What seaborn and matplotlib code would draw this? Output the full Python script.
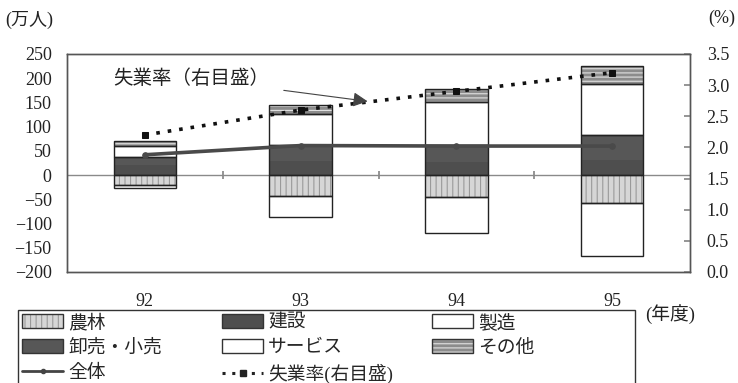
import numpy as np
import matplotlib
matplotlib.use('Agg')
import matplotlib.pyplot as plt
import seaborn as sns
from matplotlib.patches import Patch, Rectangle
from matplotlib.lines import Line2D

# Data (万人, 失業率 %)
years = ['92', '93', '94', '95']
agri = [-21, -43, -46, -57]        # 農林
manuf = [-5, -43, -73, -111]       # 製造
constr = [20, 30, 28, 32]          # 建設
trade = [17, 32, 35, 50]           # 卸売・小売
service = [24, 65, 88, 106]        # サービス
other = [10, 17, 27, 38]           # その他
total = [42, 61, 60, 60]           # 全体
unemp = [2.2, 2.6, 2.9, 3.2]       # 失業率
left_ticks = [-200, -150, -100, -50, 0, 50, 100, 150, 200, 250]
right_ticks = [0.0, 0.5, 1.0, 1.5, 2.0, 2.5, 3.0, 3.5]

sns.set_theme(style='white')
plt.rcParams['font.family'] = ['Liberation Serif', 'Noto Sans CJK JP']
plt.rcParams['hatch.linewidth'] = 0.8
plt.rcParams['axes.unicode_minus'] = True

W, H = 738, 383
fig = plt.figure(figsize=(W / 100, H / 100), dpi=100)
ax = fig.add_axes([67 / W, 111 / H, 623 / W, 218 / H])
x = np.arange(len(years))
bw = 0.4

# style per layer: face, hatch colour, hatch
styles = {
    '農林': ('#d6d6d6', '#9a9a9a', '|||'),
    '製造': ('white', 'white', None),
    '建設': ('#4e4e4e', '#4e4e4e', None),
    '卸売・小売': ('#575757', '#575757', None),
    'サービス': ('white', 'white', None),
    'その他': ('#8c8c8c', '#e2e2e2', '----'),
}

neg = [('農林', agri), ('製造', manuf)]
pos = [('建設', constr), ('卸売・小売', trade), ('サービス', service), ('その他', other)]

ax.axhline(0, color='#8a8a8a', lw=1, zorder=1)

for group in (neg, pos):
    bottom = np.zeros(len(years))
    for name, vals in group:
        face, hcol, hatch = styles[name]
        ax.bar(x, vals, bw, bottom=bottom, color=face, edgecolor=hcol,
               hatch=hatch, lw=0, zorder=2)
        if name not in ('建設', '卸売・小売'):
            ax.bar(x, vals, bw, bottom=bottom, fill=False, edgecolor='#222222',
                   lw=1, zorder=3)
        bottom = bottom + np.array(vals)

# outline of the dark block
ax.bar(x, np.array(constr) + np.array(trade), bw, fill=False,
       edgecolor='#222222', lw=1, zorder=3)

sns.lineplot(x=x, y=total, ax=ax, color='#4a4a4a', lw=2.6, marker='o',
             markersize=4, markeredgecolor='#4a4a4a', zorder=4, legend=False)

ax.set_xlim(-0.5, len(years) - 0.5)
ax.set_ylim(left_ticks[0], left_ticks[-1])
ax.set_yticks(left_ticks)
ax.set_xticks(x, years)
ax.tick_params(axis='x', length=0, pad=15, labelsize=13, colors='#222222')
ax.tick_params(axis='y', length=0, pad=11, labelsize=13, colors='#222222')
for sp in ax.spines.values():
    sp.set_color('#555555')
    sp.set_linewidth(1)

# boundary ticks on the zero line
zero_frac = (0 - left_ticks[0]) / (left_ticks[-1] - left_ticks[0])
sec = ax.secondary_xaxis(zero_frac)
sec.set_xticks(x[:-1] + 0.5)
sec.tick_params(direction='inout', length=6, color='#888888', labelbottom=False, labeltop=False)
for sp in sec.spines.values():
    sp.set_visible(False)

ax2 = ax.twinx()
sns.lineplot(x=x, y=unemp, ax=ax2, color='#111111', lw=2.6,
             linestyle=(0, (1, 2.2)), marker='s', markersize=5,
             markeredgecolor='#111111', legend=False)
ax2.set_ylim(right_ticks[0], right_ticks[-1])
ax2.set_yticks(right_ticks, [f'{t:.1f}' for t in right_ticks])
ax2.tick_params(axis='y', direction='in', length=4, color='#888888', pad=12,
                labelsize=13, colors='#222222')
ax2.tick_params(axis='y', color='#888888')
for sp in ax2.spines.values():
    sp.set_color('#555555')
    sp.set_linewidth(1)

ax2.annotate('失業率（右目盛）', xy=(1.43, 2.74), xytext=(0.8, 3.11),
             ha='right', va='center', fontsize=14, color='#222222',
             arrowprops=dict(arrowstyle='-|>', color='#444444', lw=0.8,
                             mutation_scale=22, shrinkA=8, shrinkB=0))

fig.text(5 / W, 1 - 20 / H, '(万人)', fontsize=13, va='center', ha='left', color='#222222')
fig.text(735 / W, 1 - 18 / H, '(%)', fontsize=13, va='center', ha='right', color='#222222')
fig.text(645 / W, 1 - 314 / H, '(年度)', fontsize=13.5, va='center', ha='left', color='#222222')


def patch_handle(name):
    face, hcol, hatch = styles[name]
    return (Patch(facecolor=face, edgecolor=hcol, hatch=hatch, lw=0),
            Patch(fill=False, edgecolor='#333333', lw=1))


cols = [
    (22, [patch_handle('農林'), patch_handle('卸売・小売'),
          Line2D([], [], color='#444444', lw=2, marker='o', ms=3)],
     ['農林', '卸売・小売', '全体']),
    (222, [patch_handle('建設'), patch_handle('サービス'),
           Line2D([], [], color='#222222', lw=2.2, ls=(0, (1, 2.2)), marker='s', ms=4)],
     ['建設', 'サービス', '失業率(右目盛)']),
    (432, [patch_handle('製造'), patch_handle('その他')],
     ['製造', 'その他']),
]
for left, handles, labels in cols:
    fig.legend(handles, labels, loc='upper left',
               bbox_to_anchor=(left / W, 1 - 314 / H), frameon=False,
               fontsize=13.5, handlelength=2.2, handleheight=0.75,
               handletextpad=0.25, labelspacing=0.4, borderpad=0,
               borderaxespad=0)

fig.patches.append(Rectangle((18 / W, -0.05), (635 - 18) / W, 0.05 + (383 - 310) / H,
                             transform=fig.transFigure, fill=False,
                             edgecolor='#333333', lw=1))

fig.savefig('out.png', dpi=100)
